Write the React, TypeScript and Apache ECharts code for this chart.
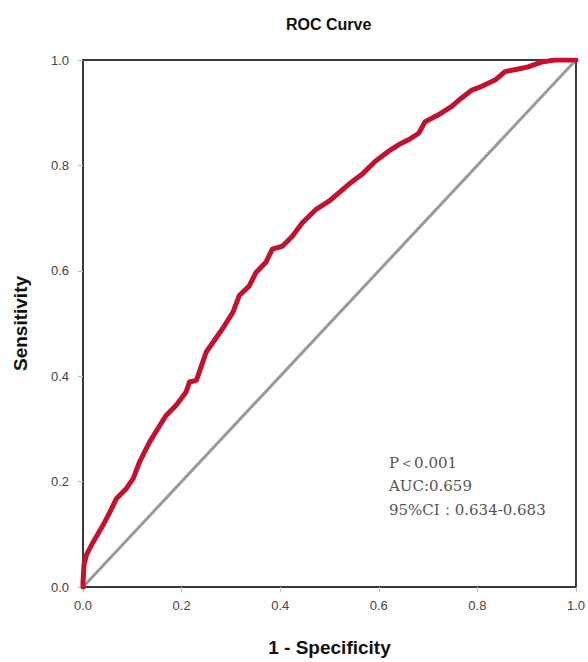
import React, { useEffect, useRef } from "react";
import * as echarts from "echarts";

const titleText = "ROC Curve";
const xName = "1 - Specificity";
const yName = "Sensitivity";
const tickInterval = 0.2;

const fpr = [0, 0, 0.002, 0.007, 0.021, 0.041, 0.055, 0.068, 0.088, 0.102, 0.115, 0.135, 0.156, 0.169, 0.189, 0.209, 0.216, 0.23, 0.25, 0.283, 0.304, 0.317, 0.337, 0.351, 0.371, 0.384, 0.405, 0.425, 0.445, 0.472, 0.499, 0.539, 0.566, 0.593, 0.62, 0.64, 0.661, 0.681, 0.694, 0.721, 0.748, 0.768, 0.789, 0.809, 0.836, 0.856, 0.883, 0.903, 0.93, 0.957, 1];
const tpr = [0, 0.008, 0.042, 0.061, 0.086, 0.118, 0.143, 0.168, 0.187, 0.206, 0.238, 0.275, 0.307, 0.326, 0.345, 0.37, 0.389, 0.392, 0.446, 0.49, 0.521, 0.553, 0.571, 0.597, 0.616, 0.641, 0.647, 0.666, 0.691, 0.716, 0.732, 0.764, 0.783, 0.808, 0.827, 0.839, 0.849, 0.861, 0.883, 0.896, 0.912, 0.928, 0.943, 0.95, 0.962, 0.978, 0.983, 0.987, 0.996, 1.0, 1.0];

const refX = [0, 1];
const refY = [0, 1];

const annotations = ["P\uFF1C0.001", "AUC:0.659", "95%CI\uFF1A0.634-0.683"];

export default function App() {
  const ref = useRef<HTMLDivElement>(null);
  useEffect(() => {
    document.body.style.margin = "0";
    if (!ref.current) return;
    const chart = echarts.init(ref.current, null, { renderer: "svg" });
    const sans = "Liberation Sans, Arial, sans-serif";
    chart.setOption({
      animation: false,
      backgroundColor: "#fff",
      title: {
        text: titleText,
        left: 281,
        top: 11,
        textStyle: { fontFamily: sans, fontSize: 16, fontWeight: "bold", color: "#111" },
      },
      grid: {
        left: 83,
        right: 10,
        top: 60,
        bottom: 73,
        show: true,
        borderColor: "#3a3a3a",
        borderWidth: 2,
        backgroundColor: "#fff",
      },
      xAxis: {
        type: "value",
        min: 0,
        max: 1,
        interval: tickInterval,
        name: xName,
        nameLocation: "middle",
        nameGap: 51,
        nameTextStyle: { fontFamily: sans, fontSize: 19, fontWeight: "bold", color: "#111" },
        axisLine: { show: false },
        axisTick: { show: true, length: 5, lineStyle: { color: "#bbb" } },
        splitLine: { show: false },
        axisLabel: {
          fontFamily: sans,
          fontSize: 13,
          color: "#444",
          margin: 12,
          formatter: (v: number) => v.toFixed(1),
        },
      },
      yAxis: {
        type: "value",
        min: 0,
        max: 1,
        interval: tickInterval,
        name: yName,
        nameLocation: "middle",
        nameGap: 53,
        nameTextStyle: { fontFamily: sans, fontSize: 19, fontWeight: "bold", color: "#111" },
        axisLine: { show: false },
        axisTick: { show: true, length: 5, lineStyle: { color: "#bbb" } },
        splitLine: { show: false },
        axisLabel: {
          fontFamily: sans,
          fontSize: 13,
          color: "#444",
          margin: 14,
          formatter: (v: number) => v.toFixed(1),
        },
      },
      series: [
        {
          type: "line",
          data: refX.map((x, i) => [x, refY[i]]),
          symbol: "none",
          lineStyle: { color: "#9a9a9a", width: 3 },
          z: 2,
        },
        {
          type: "line",
          data: fpr.map((x, i) => [x, tpr[i]]),
          symbol: "none",
          lineStyle: { color: "#c8102e", width: 5, join: "round", cap: "round" },
          z: 3,
        },
      ],
      graphic: annotations.map((t, i) => ({
        type: "text",
        left: 389,
        top: 455 + i * 23.5,
        style: {
          text: t,
          fontFamily: "DejaVu Serif, Liberation Serif, serif",
          fontSize: 15,
          fill: "#555",
        },
      })),
    });
    return () => chart.dispose();
  }, []);
  return <div ref={ref} style={{ width: 588, height: 662 }} />;
}
